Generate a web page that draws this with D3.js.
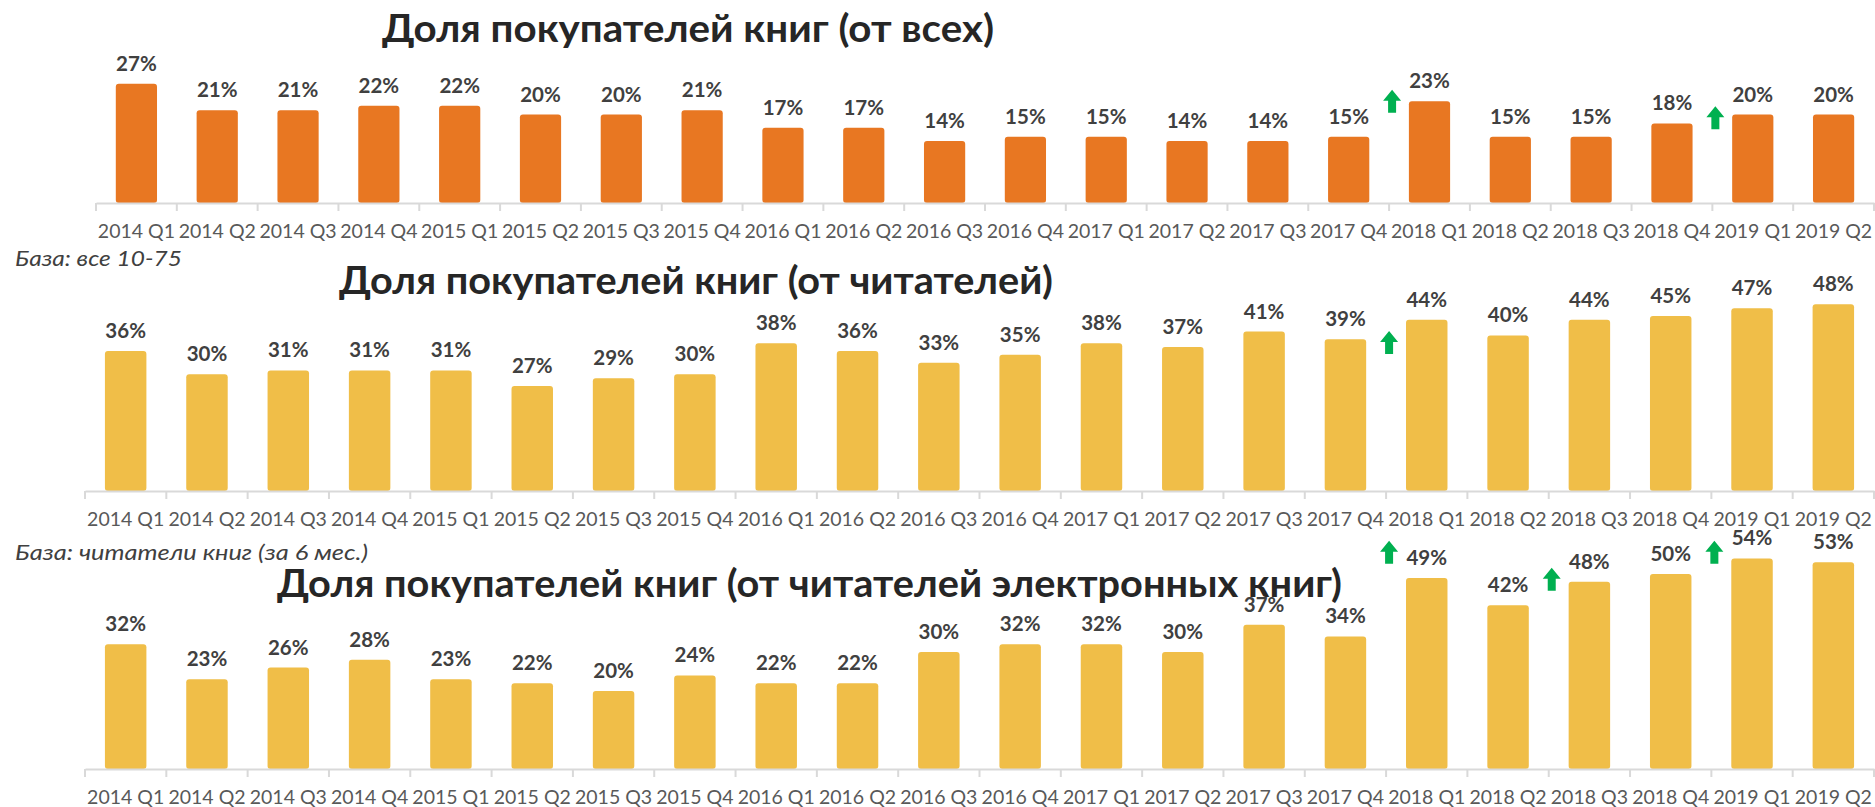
<!DOCTYPE html>
<html>
<head>
<meta charset="utf-8">
<script src="https://cdn.jsdelivr.net/npm/d3@7"></script>
<style>
  html, body { margin: 0; padding: 0; background: #ffffff; }
  svg { display: block; }
</style>
</head>
<body>
<svg id="chart" width="1875" height="807"></svg>
<script>
// ---------- DATA ----------
const categories = ["2014 Q1","2014 Q2","2014 Q3","2014 Q4","2015 Q1","2015 Q2","2015 Q3","2015 Q4",
  "2016 Q1","2016 Q2","2016 Q3","2016 Q4","2017 Q1","2017 Q2","2017 Q3","2017 Q4",
  "2018 Q1","2018 Q2","2018 Q3","2018 Q4","2019 Q1","2019 Q2"];

const shareOfAll = [27,21,21,22,22,20,20,21,17,17,14,15,15,14,14,15,23,15,15,18,20,20];
const shareOfReaders = [36,30,31,31,31,27,29,30,38,36,33,35,38,37,41,39,44,40,44,45,47,48];
const shareOfEbookReaders = [32,23,26,28,23,22,20,24,22,22,30,32,32,30,37,34,49,42,48,50,54,53];

const titles = [
  "Доля покупателей книг (от всех)",
  "Доля покупателей книг (от читателей)",
  "Доля покупателей книг (от читателей электронных книг)"
];
const baseNotes = ["База: все 10-75", "База: читатели книг (за 6 мес.)"];

// growth arrows: category where growth is marked, and level (in % units) of the arrow top
const arrowsAll = [{cat: "2018 Q1", level: 25.6}, {cat: "2019 Q1", level: 21.9}];
const arrowsReaders = [{cat: "2018 Q1", level: 41.1}];
const arrowsEbook = [{cat: "2018 Q1", level: 58.5}, {cat: "2018 Q3", level: 51.6}, {cat: "2019 Q1", level: 58.5}];

// ---------- LAYOUT ----------
const svg = d3.select("#chart");
const ORANGE = "#E87722", YELLOW = "#F0BE48", GREEN = "#00B050";

const panels = [
  {values: shareOfAll, arrows: arrowsAll, color: ORANGE, x0: 96, x1: 1874, base: 203, pxPer: 4.42,
   title: titles[0], titleX: 382, titleY: 42, titleW: 612},
  {values: shareOfReaders, arrows: arrowsReaders, color: YELLOW, x0: 85, x1: 1874, base: 491, pxPer: 3.89,
   title: titles[1], titleX: 339, titleY: 294, titleW: 714},
  {values: shareOfEbookReaders, arrows: arrowsEbook, color: YELLOW, x0: 85, x1: 1874, base: 769, pxPer: 3.9,
   title: titles[2], titleX: 277, titleY: 597, titleW: 1065}
];

panels.forEach(p => {
  const g = svg.append("g");
  const x = d3.scaleBand().domain(categories).range([p.x0, p.x1]).paddingInner(0.49).paddingOuter(0.245);
  const maxV = 60;
  const y = d3.scaleLinear().domain([0, maxV]).range([p.base, p.base - maxV * p.pxPer]);
  const step = x.step();

  // title
  g.append("text")
    .attr("x", p.titleX).attr("y", p.titleY)
    .attr("font-family", "Lato, 'Open Sans', sans-serif")
    .attr("font-weight", 700).attr("font-size", 38)
    .attr("textLength", p.titleW).attr("lengthAdjust", "spacingAndGlyphs")
    .attr("fill", "#262626")
    .text(p.title);

  // bars
  g.selectAll("rect.bar").data(p.values).join("rect")
    .attr("class", "bar")
    .attr("x", (d, i) => x(categories[i]))
    .attr("width", x.bandwidth())
    .attr("y", d => y(d))
    .attr("height", d => p.base - y(d))
    .attr("rx", 3)
    .attr("fill", p.color);

  // value labels
  g.selectAll("text.val").data(p.values).join("text")
    .attr("class", "val")
    .attr("x", (d, i) => x(categories[i]) + x.bandwidth() / 2)
    .attr("y", d => y(d) - 13)
    .attr("text-anchor", "middle")
    .attr("font-family", "Lato, sans-serif")
    .attr("font-weight", 700).attr("font-size", 20.5)
    .attr("fill", "#404040")
    .text(d => d + "%");

  // axis
  const axis = d3.axisBottom(x).tickSize(0).tickPadding(0);
  const ax = g.append("g").attr("transform", `translate(0,${p.base})`).call(axis);
  ax.select(".domain").attr("stroke", "#D9D9D9").attr("stroke-width", 2);
  ax.selectAll(".tick text")
    .attr("y", 35).attr("dy", 0)
    .attr("font-family", "Lato, sans-serif").attr("font-size", 19.5)
    .attr("fill", "#595959");
  // category boundary tick marks
  const bounds = d3.range(categories.length + 1).map(i => p.x0 + i * step);
  g.selectAll("line.tk").data(bounds).join("line")
    .attr("class", "tk")
    .attr("x1", d => d).attr("x2", d => d)
    .attr("y1", p.base).attr("y2", p.base + 8)
    .attr("stroke", "#D9D9D9").attr("stroke-width", 2);

  // growth arrows
  p.arrows.forEach(a => {
    const i = categories.indexOf(a.cat);
    const cx = p.x0 + i * step + 3;
    const top = y(a.level);
    const W = 18, H = 23, hh = 11, sw = 8;
    const path = `M${cx},${top} L${cx + W/2},${top + hh} L${cx + sw/2},${top + hh} L${cx + sw/2},${top + H}` +
                 ` L${cx - sw/2},${top + H} L${cx - sw/2},${top + hh} L${cx - W/2},${top + hh} Z`;
    g.append("path").attr("d", path).attr("fill", GREEN);
  });
});

// base notes
svg.append("text").attr("x", 15).attr("y", 266)
  .attr("font-family", "Lato, 'Open Sans', sans-serif").attr("font-style", "italic").attr("font-size", 21)
  .attr("textLength", 167).attr("lengthAdjust", "spacingAndGlyphs")
  .attr("fill", "#404040").text(baseNotes[0]);
svg.append("text").attr("x", 15).attr("y", 560)
  .attr("font-family", "Lato, 'Open Sans', sans-serif").attr("font-style", "italic").attr("font-size", 21)
  .attr("textLength", 353).attr("lengthAdjust", "spacingAndGlyphs")
  .attr("fill", "#404040").text(baseNotes[1]);
</script>
</body>
</html>
